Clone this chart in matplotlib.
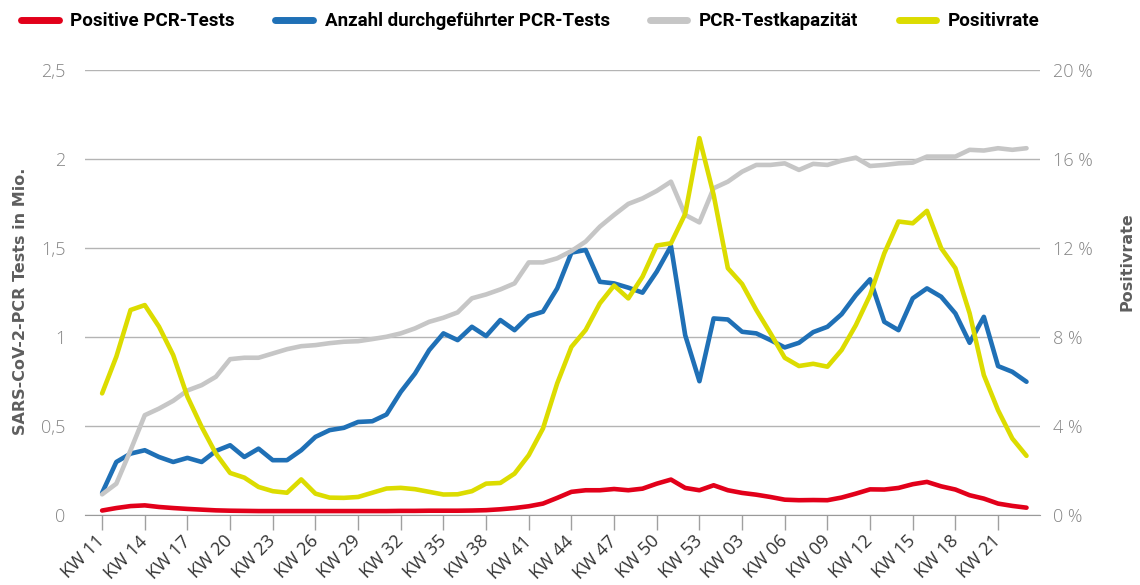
import matplotlib
matplotlib.use("Agg")
import matplotlib.pyplot as plt
from matplotlib.ticker import FixedLocator, FuncFormatter

RED = "#e2001a"
BLUE = "#1f70b6"
GRAY = "#c6c6c6"
YELLOW = "#dcdc00"
GRID = "#b4b4b4"
TICK_GRAY = "#858585"
LABEL_GRAY = "#5e5e5e"

# calendar weeks: KW 11/2020 .. KW 53/2020, KW 01/2021 .. KW 23/2021
weeks = [f"KW {w:02d}" for w in range(11, 54)] + [f"KW {w:02d}" for w in range(1, 24)]

# Mio. tests per week
positive = [
    0.025, 0.039, 0.050, 0.054, 0.045, 0.039, 0.034, 0.030, 0.026, 0.024,
    0.023, 0.022, 0.022, 0.022, 0.022, 0.022, 0.022, 0.022, 0.022, 0.022,
    0.022, 0.023, 0.023, 0.024, 0.024, 0.024, 0.025, 0.027, 0.032, 0.039,
    0.049, 0.064, 0.096, 0.130, 0.139, 0.139, 0.146, 0.139, 0.148, 0.176,
    0.199, 0.152, 0.139, 0.167, 0.139, 0.124, 0.114, 0.101, 0.086, 0.083,
    0.084, 0.083, 0.098, 0.120, 0.144, 0.143, 0.152, 0.173, 0.186, 0.161,
    0.143, 0.111, 0.092, 0.064, 0.051, 0.041,
]
performed = [
    0.124, 0.298, 0.345, 0.364, 0.326, 0.298, 0.321, 0.298, 0.360, 0.392,
    0.326, 0.373, 0.308, 0.308, 0.364, 0.439, 0.477, 0.490, 0.523, 0.527,
    0.565, 0.692, 0.795, 0.927, 1.021, 0.983, 1.058, 1.006, 1.096, 1.039,
    1.118, 1.143, 1.274, 1.475, 1.490, 1.311, 1.302, 1.278, 1.250, 1.368,
    1.512, 1.011, 0.752, 1.105, 1.099, 1.030, 1.021, 0.983, 0.942, 0.968,
    1.028, 1.058, 1.129, 1.236, 1.325, 1.086, 1.039, 1.218, 1.274, 1.227,
    1.133, 0.968, 1.114, 0.837, 0.805, 0.749,
]
capacity = [
    0.116, 0.176, 0.364, 0.561, 0.598, 0.642, 0.700, 0.730, 0.777, 0.876,
    0.884, 0.884, 0.908, 0.932, 0.949, 0.955, 0.966, 0.974, 0.977, 0.989,
    1.002, 1.021, 1.049, 1.086, 1.109, 1.139, 1.218, 1.240, 1.268, 1.302,
    1.420, 1.420, 1.443, 1.484, 1.537, 1.621, 1.687, 1.749, 1.780, 1.822,
    1.874, 1.687, 1.645, 1.837, 1.874, 1.930, 1.968, 1.968, 1.977, 1.940,
    1.974, 1.968, 1.992, 2.009, 1.962, 1.968, 1.977, 1.981, 2.015, 2.015,
    2.015, 2.053, 2.049, 2.062, 2.053, 2.062,
]
# positive rate in percent
rate = [
    5.47, 7.12, 9.22, 9.44, 8.47, 7.19, 5.32, 3.96, 2.76, 1.89,
    1.68, 1.26, 1.07, 1.00, 1.60, 0.96, 0.78, 0.77, 0.81, 1.00,
    1.19, 1.22, 1.16, 1.04, 0.92, 0.93, 1.07, 1.41, 1.44, 1.86,
    2.69, 3.89, 5.92, 7.56, 8.32, 9.52, 10.32, 9.74, 10.72, 12.12,
    12.22, 13.54, 16.95, 14.40, 11.10, 10.39, 9.22, 8.17, 7.07, 6.70,
    6.80, 6.67, 7.42, 8.54, 9.89, 11.77, 13.20, 13.12, 13.68, 12.00,
    11.10, 9.07, 6.29, 4.71, 3.44, 2.66,
]

left_ticks = [0, 0.5, 1, 1.5, 2, 2.5]
right_ticks = [0, 4, 8, 12, 16, 20]

plt.rcParams["font.family"] = ["Open Sans", "DejaVu Sans"]

fig = plt.figure(figsize=(11.4, 5.85), dpi=100)
ax = fig.add_axes([0.0746, 0.1197, 0.8377, 0.7601])
ax2 = ax.twinx()

x = list(range(len(weeks)))
line_kw = dict(linewidth=3.3, solid_capstyle="round", solid_joinstyle="round")
l1, = ax.plot(x, positive, color=RED, label="Positive PCR-Tests", zorder=4, **line_kw)
l2, = ax.plot(x, performed, color=BLUE, label="Anzahl durchgeführter PCR-Tests", zorder=3, **line_kw)
l3, = ax.plot(x, capacity, color=GRAY, label="PCR-Testkapazität", zorder=3.5, **line_kw)
l4, = ax2.plot(x, rate, color=YELLOW, label="Positivrate", **line_kw)

ax.set_xlim(-1.2, 65.95)
ax.set_ylim(0, 2.5)
ax2.set_ylim(0, 20)

ax.yaxis.set_major_locator(FixedLocator(left_ticks))
ax.yaxis.set_major_formatter(FuncFormatter(lambda v, p: f"{v:g}".replace(".", ",")))
ax2.yaxis.set_major_locator(FixedLocator(right_ticks))
ax2.yaxis.set_major_formatter(FuncFormatter(lambda v, p: f"{v:g} %"))

ax.grid(axis="y", color=GRID, linewidth=1.0)
ax.set_axisbelow(True)

xt = x[::3]
ax.set_xticks(xt)
ax.set_xticklabels([weeks[i] for i in xt], rotation=45, ha="right", va="center",
                   rotation_mode="anchor", fontsize=13, color="#333333")
ax.tick_params(axis="x", length=11, width=1, color="#a0a0a0", pad=6)
ax.tick_params(axis="y", length=0, labelsize=13, labelcolor=TICK_GRAY, pad=14)
ax2.tick_params(axis="y", length=0, labelsize=13, labelcolor=TICK_GRAY, pad=9)

for a in (ax, ax2):
    for side in ("top", "left", "right"):
        a.spines[side].set_visible(False)
    a.spines["bottom"].set_color("#9a9a9a")
ax2.spines["bottom"].set_visible(False)

for lab in ax.get_yticklabels() + ax2.get_yticklabels():
    lab.set_fontweight("light")

label_font = dict(fontsize=11.5, fontweight="bold", color=LABEL_GRAY,
                  family=["DejaVu Sans"])
ax.set_ylabel("SARS-CoV-2-PCR Tests in Mio.", **label_font)
ax.yaxis.set_label_coords(-0.06, 0.48)
ax2.set_ylabel("Positivrate", **label_font)
ax2.yaxis.set_label_coords(1.083, 0.57)

leg = fig.legend(
    handles=[l1, l2, l3, l4],
    loc="upper left",
    bbox_to_anchor=(0.0105, 0.995),
    ncol=4,
    frameon=False,
    borderpad=0,
    handlelength=2.0,
    handletextpad=0.62,
    columnspacing=2.15,
    prop=dict(family=["Roboto", "DejaVu Sans"], weight="bold", size=13.5),
)
for h in leg.legend_handles:
    h.set_linewidth(5)
    h.set_solid_capstyle("round")

fig.savefig("out.png", dpi=100)
